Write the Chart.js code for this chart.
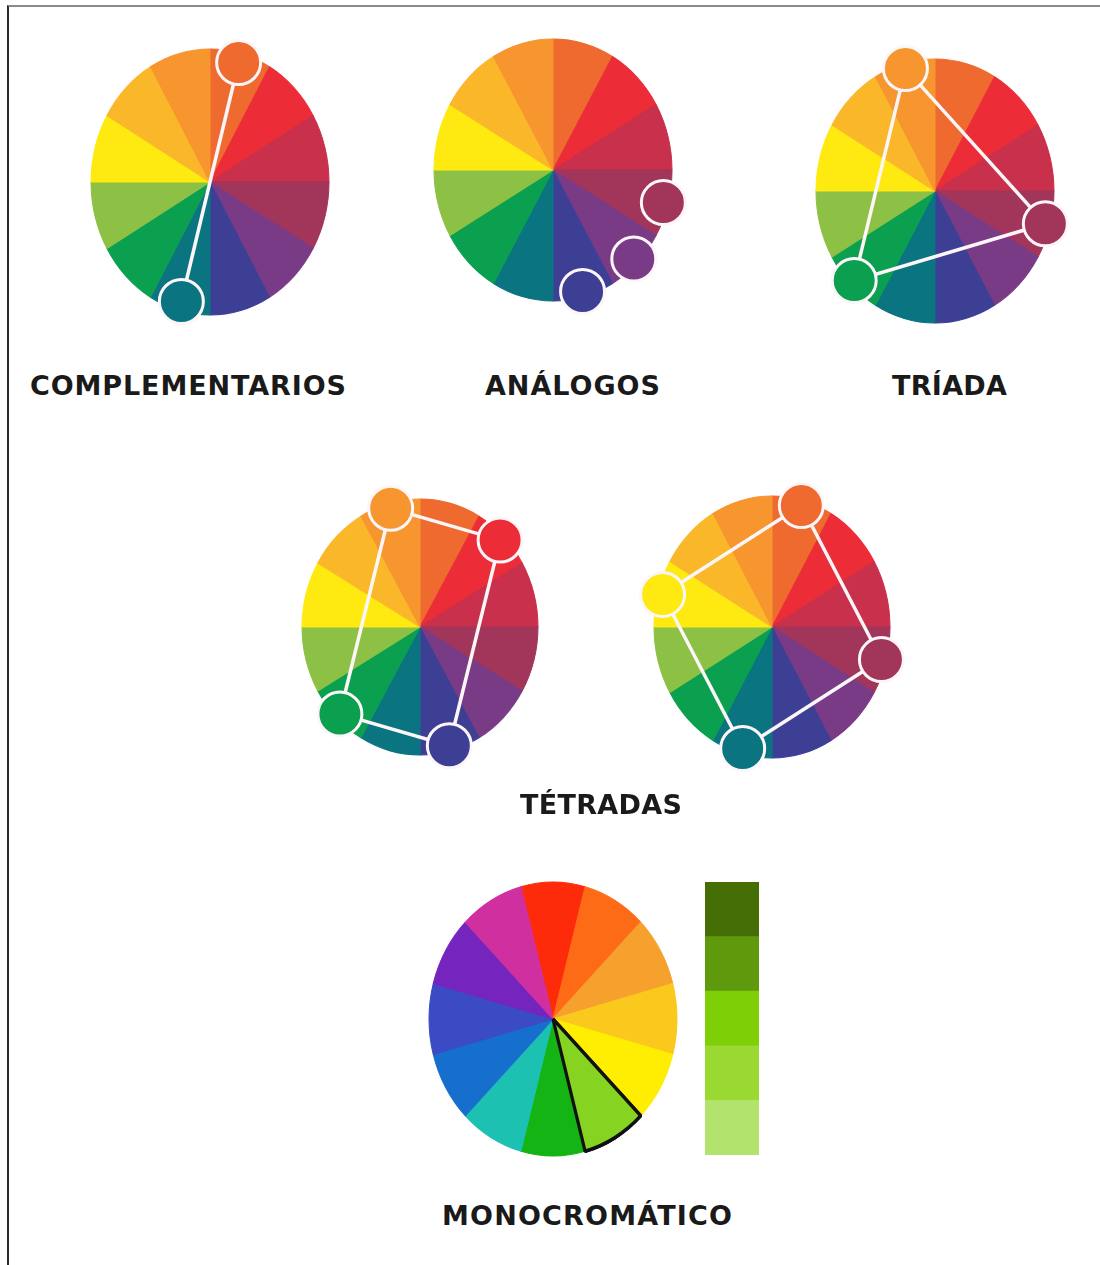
<!DOCTYPE html>
<html>
<head>
<meta charset="utf-8">
<script src="https://cdn.jsdelivr.net/npm/chart.js@4.4.1/dist/chart.umd.min.js"></script>
<style>
  body { margin: 0; background: #fff; width: 1100px; height: 1265px; position: relative; overflow: hidden; }
  .frame { position: absolute; left: 7px; top: 5px; right: 0; bottom: 0; border-top: 2px solid #8a8a8a; border-left: 2px solid #2a2a2a; }
  canvas { position: absolute; }
  .label { position: absolute; font-family: "DejaVu Sans", Inter, sans-serif; font-weight: 700; font-size: 27px; line-height: 27px; color: #1a1a1a; white-space: nowrap; }
</style>
</head>
<body>
<div class="frame"></div>

<canvas id="complementarios" width="340" height="340"></canvas>
<canvas id="analogos" width="340" height="340"></canvas>
<canvas id="triada" width="340" height="340"></canvas>
<canvas id="tetradaA" width="340" height="340"></canvas>
<canvas id="tetradaB" width="340" height="340"></canvas>
<canvas id="mono" width="340" height="340"></canvas>
<canvas id="shades" width="54" height="273" style="left:705px;top:882px"></canvas>

<div class="label" data-x="30" data-y="377" data-w="316">COMPLEMENTARIOS</div>
<div class="label" data-x="485" data-y="377" data-w="175">ANÁLOGOS</div>
<div class="label" data-x="892" data-y="377" data-w="115">TRÍADA</div>
<div class="label" data-x="520" data-y="796" data-w="162">TÉTRADAS</div>
<div class="label" data-x="442" data-y="1207" data-w="290">MONOCROMÁTICO</div>

<script>
// 12 slices of the classic wheel, clockwise from 12 o'clock
const wheelLabels = ['Naranja rojizo', 'Rojo', 'Carmín', 'Frambuesa', 'Violeta', 'Azul violáceo',
  'Verde azulado', 'Verde', 'Verde amarillento', 'Amarillo', 'Amarillo anaranjado', 'Naranja'];
const wheelColors = ['#EE6A2F', '#EC2D37', '#C8304B', '#A2355A', '#7A3B86', '#3D3F95',
  '#0A7481', '#0BA04F', '#8DC146', '#FEEA11', '#FBB72A', '#F7952F'];
const sliceValues = [1, 1, 1, 1, 1, 1, 1, 1, 1, 1, 1, 1];

// second wheel (monocromático), clockwise from the red slice
const monoLabels = ['Rojo', 'Rojo anaranjado', 'Naranja', 'Amarillo anaranjado', 'Amarillo', 'Verde amarillento',
  'Verde', 'Turquesa', 'Azul', 'Añil', 'Violeta', 'Magenta'];
const monoColors = ['#FE2B0B', '#FE6B16', '#F6A02E', '#FBC91D', '#FFEE02', '#86D322',
  '#13B414', '#1CC1B1', '#176FCD', '#3A4BC4', '#7525BE', '#D0309F'];
const monoPick = 5;

// shades of the picked green, top to bottom
const monoShades = ['#456E06', '#5E9A0C', '#7ECF06', '#9AD832', '#B2E36C'];
const shadeValues = [1, 1, 1, 1, 1];

// picked slices per scheme
const complementarios = [0, 6];
const analogos = [3, 4, 5];
const triada = [11, 3, 7];
const tetradaA = [11, 1, 5, 7];
const tetradaB = [0, 3, 6, 9];

// the wheels are drawn a bit taller than wide, markers sit on top
const ellipsePlugin = {
  id: 'ellipse',
  beforeDatasetsDraw(chart, args, opts) {
    const ctx = chart.ctx, a = chart.chartArea;
    const cx = (a.left + a.right) / 2, cy = (a.top + a.bottom) / 2;
    ctx.save();
    ctx.translate(cx, cy);
    ctx.scale(1, opts.ky);
    ctx.translate(-cx, -cy);
  },
  afterDatasetsDraw(chart, args, opts) {
    const ctx = chart.ctx;
    const meta = chart.getDatasetMeta(0);
    if (opts.outline != null) meta.data[opts.outline].draw(ctx);
    ctx.restore();

    const pts = (opts.picks || []).map(i => {
      const el = meta.data[i];
      const p = el.getProps(['x', 'y', 'startAngle', 'endAngle', 'outerRadius'], true);
      const m = (p.startAngle + p.endAngle) / 2;
      return {
        x: p.x + Math.cos(m) * p.outerRadius * opts.reach,
        y: p.y + Math.sin(m) * p.outerRadius * opts.reach * opts.ky,
        c: el.options.backgroundColor
      };
    });

    if (opts.link && pts.length > 1) {
      ctx.save();
      ctx.strokeStyle = '#fdf6f8';
      ctx.lineWidth = 3.5;
      ctx.beginPath();
      pts.forEach((p, k) => k ? ctx.lineTo(p.x, p.y) : ctx.moveTo(p.x, p.y));
      if (opts.closed) ctx.closePath();
      ctx.stroke();
      ctx.restore();
    }

    pts.forEach(p => {
      ctx.beginPath();
      ctx.arc(p.x, p.y, opts.dot, 0, Math.PI * 2);
      ctx.fillStyle = p.c;
      ctx.fill();
      ctx.lineWidth = 3;
      ctx.strokeStyle = '#fdf6f8';
      ctx.stroke();
    });
  }
};

const wheels = [
  { id: 'complementarios', cx: 210, cy: 182, rx: 119, ry: 133, picks: complementarios, link: true, closed: false, reach: 0.93 },
  { id: 'analogos', cx: 553, cy: 170, rx: 119, ry: 131, picks: analogos, link: false, closed: false, reach: 0.96 },
  { id: 'triada', cx: 935, cy: 191, rx: 119, ry: 132, picks: triada, link: true, closed: true, reach: 0.96 },
  { id: 'tetradaA', cx: 420, cy: 627, rx: 118, ry: 128, picks: tetradaA, link: true, closed: true, reach: 0.96 },
  { id: 'tetradaB', cx: 772, cy: 627, rx: 118, ry: 131, picks: tetradaB, link: true, closed: true, reach: 0.96 }
];

function drawWheel(w, labels, colors, extra) {
  const cv = document.getElementById(w.id);
  cv.style.left = (w.cx - 170) + 'px';
  cv.style.top = (w.cy - 170) + 'px';
  const borderColors = colors.slice();
  const borderWidths = colors.map(() => 1);
  if (extra.outline != null) {
    borderColors[extra.outline] = '#111';
    borderWidths[extra.outline] = 3.2;
  }
  return new Chart(cv, {
    type: 'pie',
    data: {
      labels: labels,
      datasets: [{
        data: sliceValues,
        backgroundColor: colors,
        borderColor: borderColors,
        borderWidth: borderWidths
      }]
    },
    options: {
      responsive: false,
      animation: false,
      devicePixelRatio: 1,
      radius: w.rx,
      rotation: extra.rotation || 0,
      layout: { padding: 0 },
      events: [],
      plugins: {
        legend: { display: false },
        tooltip: { enabled: false },
        ellipse: {
          ky: w.ry / w.rx,
          picks: w.picks,
          link: w.link,
          closed: w.closed,
          reach: w.reach,
          dot: 22,
          outline: extra.outline
        }
      }
    },
    plugins: [ellipsePlugin]
  });
}

wheels.forEach(w => drawWheel(w, wheelLabels, wheelColors, {}));

drawWheel({ id: 'mono', cx: 553, cy: 1019, rx: 124, ry: 137, picks: [], link: false, closed: false, reach: 1 },
  monoLabels, monoColors, { rotation: -15, outline: monoPick });

// stacked column of shades (first dataset sits at the bottom)
new Chart(document.getElementById('shades'), {
  type: 'bar',
  data: {
    labels: ['Verde amarillento'],
    datasets: monoShades.slice().reverse().map((c, k) => ({
      label: 'Tono ' + (k + 1),
      data: [shadeValues[k]],
      backgroundColor: c,
      borderWidth: 0,
      categoryPercentage: 1,
      barPercentage: 1
    }))
  },
  options: {
    responsive: false,
    animation: false,
    devicePixelRatio: 1,
    events: [],
    layout: { padding: 0 },
    plugins: { legend: { display: false }, tooltip: { enabled: false } },
    scales: {
      x: { display: false, stacked: true },
      y: { display: false, stacked: true, min: 0, max: 5 }
    }
  }
});

// place titles and stretch them to the reference width
document.querySelectorAll('.label').forEach(el => {
  const n = el.textContent.length;
  const w = el.getBoundingClientRect().width;
  const ls = (+el.dataset.w - w) / (n - 1);
  el.style.letterSpacing = ls + 'px';
  el.style.left = el.dataset.x + 'px';
  el.style.top = (+el.dataset.y - 5) + 'px';
});
</script>
</body>
</html>
